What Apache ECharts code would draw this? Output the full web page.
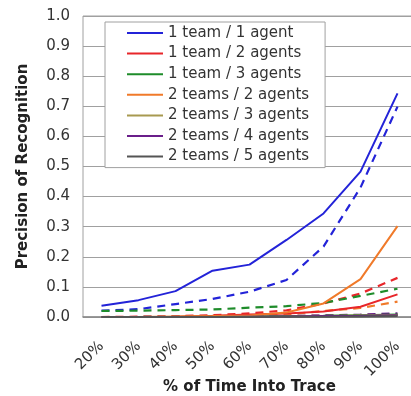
<!DOCTYPE html>
<html><head><meta charset="utf-8">
<script src="https://cdn.jsdelivr.net/npm/echarts@6/dist/echarts.min.js"></script>
<style>html,body{margin:0;padding:0;background:#fff}#c{width:411px;height:396px}</style>
</head><body><div id="c"></div>
<script>
const categories = ['20%','30%','40%','50%','60%','70%','80%','90%','100%'];
const yTicks = [0,0.1,0.2,0.3,0.4,0.5,0.6,0.7,0.8,0.9,1.0];
const names = ['1 team / 1 agent','1 team / 2 agents','1 team / 3 agents','2 teams / 2 agents','2 teams / 3 agents','2 teams / 4 agents','2 teams / 5 agents'];
const colors = ['#2323d8','#e8262a','#1e8c2a','#f07a2a','#a89a50','#6a1e8a','#555555'];
// solid lines
const s_1t1a = [0.037,0.056,0.086,0.154,0.174,0.256,0.344,0.483,0.743];
const s_1t2a = [0.000,0.000,0.001,0.004,0.008,0.012,0.018,0.034,0.075];
const s_1t3a = [0.000,0.000,0.000,0.001,0.002,0.003,0.004,0.006,0.008];
const s_2t2a = [0.000,0.000,0.002,0.003,0.005,0.015,0.045,0.126,0.302];
const s_2t3a = [0.000,0.000,0.000,0.000,0.001,0.002,0.003,0.005,0.007];
const s_2t4a = [0.000,0.000,0.000,0.000,0.001,0.002,0.003,0.004,0.006];
const s_2t5a = [0.000,0.000,0.000,0.000,0.000,0.001,0.001,0.002,0.003];
// dashed lines
const d_1t1a = [0.021,0.026,0.043,0.060,0.084,0.123,0.234,0.430,0.699];
const d_1t2a = [0.000,0.001,0.003,0.006,0.012,0.022,0.045,0.078,0.130];
const d_1t3a = [0.020,0.021,0.023,0.025,0.031,0.036,0.047,0.070,0.094];
const d_2t2a = [0.000,0.000,0.001,0.002,0.004,0.008,0.020,0.030,0.051];
const d_2t3a = [0.000,0.000,0.001,0.001,0.002,0.003,0.005,0.007,0.010];
const d_2t4a = [0.000,0.000,0.001,0.001,0.002,0.003,0.005,0.008,0.012];
const d_2t5a = [0.000,0.000,0.000,0.001,0.001,0.002,0.003,0.004,0.006];

const solid = [s_1t1a,s_1t2a,s_1t3a,s_2t2a,s_2t3a,s_2t4a,s_2t5a];
const dashed = [d_1t1a,d_1t2a,d_1t3a,d_2t2a,d_2t3a,d_2t4a,d_2t5a];

const series = [];
dashed.forEach((d,i)=>series.push({name:names[i]+' ', type:'line', data:d, showSymbol:false, z:2,
  lineStyle:{color:colors[i], width:2.2, type:[8,6]}, itemStyle:{color:colors[i]}}));
solid.forEach((d,i)=>series.push({name:names[i], type:'line', data:d, showSymbol:false, z:3,
  lineStyle:{color:colors[i], width:2}, itemStyle:{color:colors[i]}}));

const font = '"DejaVu Sans", "Liberation Sans", sans-serif';
const chart = echarts.init(document.getElementById('c'));
chart.setOption({
  animation:false,
  textStyle:{fontFamily:font},
  grid:{left:83, top:16, width:333, height:301, show:true, borderColor:'#a0a0a0', borderWidth:1,
    containLabel:false, outerBoundsMode:'none'},
  legend:{data:names, orient:'vertical', left:105, top:22, icon:'rect', itemWidth:36, itemHeight:2,
    itemGap:2.6, padding:[2,16,2,22], backgroundColor:'#fff', borderColor:'#a0a0a0', borderWidth:1,
    textStyle:{fontSize:15, color:'#333', fontFamily:font, lineHeight:18}, selectedMode:false},
  xAxis:{type:'category', data:categories, boundaryGap:true,
    axisTick:{show:false}, axisLine:{lineStyle:{color:'#888', width:1.5}},
    axisLabel:{rotate:45, fontSize:15, color:'#333', margin:27, fontFamily:font},
    name:'% of Time Into Trace', nameLocation:'middle', nameGap:63, nameMoveOverlap:false,
    nameTextStyle:{fontSize:15, fontWeight:'bold', color:'#222', fontFamily:font}},
  yAxis:{type:'value', min:0, max:1, interval:0.1,
    axisLine:{show:false}, axisTick:{show:false},
    splitLine:{lineStyle:{color:'#a0a0a0', width:1}},
    axisLabel:{fontSize:15, color:'#333', margin:13, fontFamily:font, formatter:v=>v.toFixed(1)},
    name:'Precision of Recognition', nameLocation:'middle', nameGap:52, nameMoveOverlap:false,
    nameTextStyle:{fontSize:15, fontWeight:'bold', color:'#222', fontFamily:font}},
  series:series
});
</script></body></html>
